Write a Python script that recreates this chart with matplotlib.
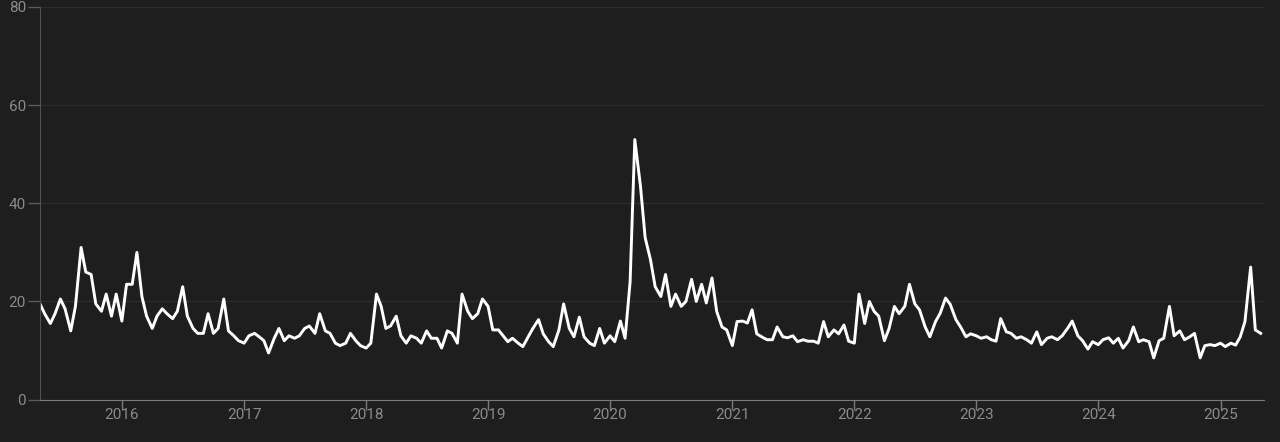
import matplotlib
matplotlib.use("Agg")
import matplotlib.pyplot as plt
import matplotlib.dates as mdates
import pandas as pd

# semi-monthly readings (1st and 15th of each month), starting 2015-05-01
v2015 = [19.5, 17.5, 15.5, 17.5, 20.5, 18.5, 14, 19, 31, 26, 25.5, 19.5,
         18, 21.5, 17, 21.5]
v2016 = [16, 23.5, 23.5, 30, 21, 17, 14.5, 17, 18.5, 17.5, 16.5, 18,
         23, 17, 14.5, 13.5, 13.5, 17.5, 13.5, 14.5, 20.5, 14, 13, 12]
v2017 = [11.5, 13, 13.5, 12.8, 12, 9.5, 12.5, 14.5, 12, 13, 12.5, 13,
         14.5, 15, 13.5, 17.5, 14, 13.5, 11.5, 11, 11.5, 13.5, 12, 11]
v2018 = [10.5, 11.5, 21.5, 19, 14.5, 15, 17, 13, 11.5, 13, 12.5, 11.5,
         14, 12.5, 12.5, 10.5, 14, 13.5, 11.5, 21.5, 18, 16.5, 17.5, 20.5]
v2019 = [19, 14.2, 14.2, 13, 11.8, 12.5, 11.5, 10.8, 12.8, 14.5, 16.3, 13.4,
         11.8, 10.8, 14.2, 19.5, 14.5, 12.8, 16.8, 12.8, 11.5, 11, 14.5, 11.5]
v2020 = [13, 11.8, 16, 12.5, 24, 53, 43.5, 33, 28.5, 23, 21, 25.5,
         19, 21.5, 19, 20, 24.5, 20, 23.5, 19.7, 24.8, 18, 14.8, 14.2]
v2021 = [11, 15.9, 16, 15.6, 18.3, 13.4, 12.7, 12.2, 12.2, 14.8, 12.8, 12.6,
         13, 11.8, 12.2, 11.9, 11.9, 11.5, 15.9, 12.8, 14.2, 13.4, 15.2, 11.9]
v2022 = [11.5, 21.5, 15.5, 20, 18, 17, 12, 14.5, 19, 17.5, 19, 23.5,
         19.5, 18.3, 14.8, 12.8, 15.9, 17.6, 20.7, 19.4, 16.3, 14.8, 12.8, 13.4]
v2023 = [13, 12.5, 12.8, 12.2, 11.9, 16.5, 13.8, 13.5, 12.5, 12.8, 12.2, 11.5,
         13.8, 11.2, 12.5, 12.8, 12.2, 13, 14.5, 16, 13, 12, 10.3, 11.8]
v2024 = [11.2, 12.2, 12.6, 11.5, 12.5, 10.5, 12, 14.8, 11.8, 12.2, 11.8, 8.5,
         12, 12.5, 19, 13, 14, 12.2, 12.8, 13.5, 8.5, 11, 11.2, 11]
v2025 = [11.5, 10.8, 11.5, 11.1, 12.8, 15.9, 27, 14.2, 13.5]

values = v2015 + v2016 + v2017 + v2018 + v2019 + v2020 + v2021 + v2022 + v2023 + v2024 + v2025
dates = pd.date_range("2015-05-01", periods=len(values), freq="SMS")

year_ticks = pd.to_datetime([f"{y}-01-01" for y in range(2016, 2026)])
y_ticks = [0, 20, 40, 60, 80]

bg = "#1e1e1e"
txt = "#8a8a8a"

plt.rcParams["font.family"] = ["Roboto", "DejaVu Sans"]

fig = plt.figure(figsize=(12.8, 4.42), dpi=100, facecolor=bg)
ax = fig.add_axes([40 / 1280, 1 - 399.6 / 442, 1224 / 1280, 392.6 / 442])
ax.set_facecolor(bg)

ax.plot(dates, values, color="white", lw=2.1, solid_joinstyle="round")

ax.set_ylim(0, 80)
ax.set_xlim(pd.Timestamp("2015-05-01"), pd.Timestamp("2025-05-11"))
ax.set_yticks(y_ticks)
ax.set_xticks(year_ticks)
ax.xaxis.set_major_formatter(mdates.DateFormatter("%Y"))

ax.grid(axis="y", color="#2d2d2d", lw=1)
ax.set_axisbelow(True)
for s in ["top", "right"]:
    ax.spines[s].set_visible(False)
ax.spines["left"].set_color("#505050")
ax.spines["bottom"].set_color("#7a7a7a")

ax.tick_params(axis="y", colors="#5a5a5a", labelcolor=txt, length=9, width=1,
               pad=1, labelsize=11)
ax.tick_params(axis="x", colors="#7a7a7a", labelcolor=txt, length=7, width=1,
               pad=-1, labelsize=11)

fig.savefig("out.png", dpi=100, facecolor=bg)
